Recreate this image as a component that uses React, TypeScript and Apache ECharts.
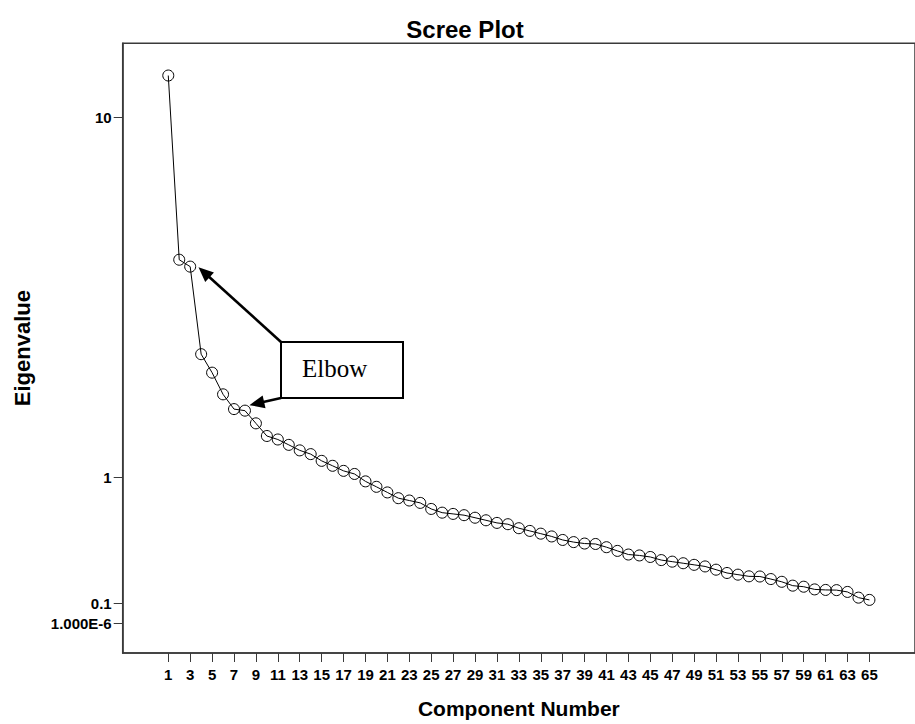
import React, { useEffect, useRef } from "react";
import * as echarts from "echarts";

const components = [
  1, 2, 3, 4, 5, 6, 7, 8, 9, 10, 11, 12, 13, 14, 15, 16, 17, 18, 19, 20, 21, 22,
  23, 24, 25, 26, 27, 28, 29, 30, 31, 32, 33, 34, 35, 36, 37, 38, 39, 40, 41,
  42, 43, 44, 45, 46, 47, 48, 49, 50, 51, 52, 53, 54, 55, 56, 57, 58, 59, 60,
  61, 62, 63, 64, 65,
];

const eigenvalues = [
  12.4, 4.6, 4.42, 2.58, 2.28, 1.96, 1.76, 1.74, 1.58, 1.43, 1.39, 1.33, 1.27,
  1.23, 1.16, 1.11, 1.06, 1.03, 0.96, 0.91, 0.86, 0.81, 0.79, 0.77, 0.72, 0.69,
  0.68, 0.67, 0.65, 0.63, 0.61, 0.6, 0.57, 0.55, 0.53, 0.51, 0.485, 0.47, 0.46,
  0.457, 0.435, 0.41, 0.386, 0.38, 0.37, 0.35, 0.34, 0.33, 0.32, 0.31, 0.29,
  0.27, 0.26, 0.25, 0.249, 0.234, 0.218, 0.196, 0.19, 0.175, 0.172, 0.171,
  0.161, 0.13, 0.118,
];

const xTickValues = [
  1, 3, 5, 7, 9, 11, 13, 15, 17, 19, 21, 23, 25, 27, 29, 31, 33, 35, 37, 39, 41,
  43, 45, 47, 49, 51, 53, 55, 57, 59, 61, 63, 65,
];

const yTickValues = [10, 1, 0.1, 0.000001];
const yTickLabels = ["10", "1", "0.1", "1.000E-6"];

const titleText = "Scree Plot";
const xAxisTitle = "Component Number";
const yAxisTitle = "Eigenvalue";
const annotationText = "Elbow";
const elbowComponents = [3, 8];

// scale used by the original: log10(1 + value)
const tf = (v: number) => Math.log10(1 + v);

const SANS = 'Arial, "Liberation Sans", Helvetica, sans-serif';
const SERIF = '"Times New Roman", "Liberation Serif", serif';
const AXIS = "#3a3a3a";

function arrow(from: number[], tip: number[], headLen: number, headHalf: number) {
  const dx = tip[0] - from[0];
  const dy = tip[1] - from[1];
  const len = Math.sqrt(dx * dx + dy * dy);
  const ux = dx / len;
  const uy = dy / len;
  const bx = tip[0] - ux * headLen;
  const by = tip[1] - uy * headLen;
  const px = -uy;
  const py = ux;
  return [
    {
      type: "line",
      shape: { x1: from[0], y1: from[1], x2: bx + ux * 2, y2: by + uy * 2 },
      style: { stroke: "#000", lineWidth: 2.6 },
      z: 10,
    },
    {
      type: "polygon",
      shape: {
        points: [
          [tip[0], tip[1]],
          [bx + px * headHalf, by + py * headHalf],
          [bx - px * headHalf, by - py * headHalf],
        ],
      },
      style: { fill: "#000" },
      z: 10,
    },
  ];
}

export default function App() {
  const ref = useRef<HTMLDivElement>(null);

  useEffect(() => {
    if (!ref.current) return;
    const chart = echarts.init(ref.current, null, {
      renderer: "svg",
      width: 915,
      height: 724,
    });

    const data = components.map((c, i) => [c, tf(eigenvalues[i])]);
    const yTickPos = yTickValues.map(tf);

    chart.setOption({
      animation: false,
      backgroundColor: "#fff",
      title: {
        text: titleText,
        left: 460,
        textAlign: "center",
        top: 12,
        textStyle: {
          fontFamily: SANS,
          fontWeight: "bold",
          fontSize: 24,
          color: "#000",
        },
      },
      grid: {
        left: 122.7,
        top: 43.3,
        width: 799.6,
        height: 613.7,
        show: true,
        borderColor: AXIS,
        borderWidth: 1.5,
        backgroundColor: "transparent",
      },
      xAxis: {
        type: "value",
        min: -3.16,
        max: 69.16,
        name: xAxisTitle,
        nameLocation: "middle",
        nameGap: 45,
        nameTextStyle: {
          fontFamily: SANS,
          fontWeight: "bold",
          fontSize: 21,
          color: "#000",
        },
        axisLine: { show: true, onZero: false, lineStyle: { color: AXIS, width: 1.5 } },
        axisTick: {
          show: true,
          length: 9,
          customValues: xTickValues,
          lineStyle: { color: AXIS, width: 1 },
        },
        axisLabel: {
          customValues: xTickValues,
          margin: 14,
          fontFamily: SANS,
          fontWeight: "bold",
          fontSize: 15,
          color: "#000",
        },
        splitLine: { show: false },
      },
      yAxis: {
        type: "value",
        min: -0.0608,
        max: 1.1934,
        name: yAxisTitle,
        nameLocation: "middle",
        nameGap: 89,
        nameTextStyle: {
          fontFamily: SANS,
          fontWeight: "bold",
          fontSize: 22,
          color: "#000",
        },
        axisLine: { show: true, onZero: false, lineStyle: { color: AXIS, width: 1.5 } },
        axisTick: {
          show: true,
          length: 9,
          customValues: yTickPos,
          lineStyle: { color: AXIS, width: 1 },
        },
        axisLabel: {
          customValues: yTickPos,
          margin: 11,
          fontFamily: SANS,
          fontWeight: "bold",
          fontSize: 15,
          color: "#000",
          formatter: (val: number) => {
            let best = 0;
            for (let i = 1; i < yTickPos.length; i++) {
              if (Math.abs(yTickPos[i] - val) < Math.abs(yTickPos[best] - val)) best = i;
            }
            return yTickLabels[best];
          },
        },
        splitLine: { show: false },
      },
      series: [
        {
          type: "line",
          data,
          symbol: "circle",
          symbolSize: 11,
          lineStyle: { color: "#000", width: 1 },
          itemStyle: {
            color: "rgba(255,255,255,0)",
            borderColor: "#000",
            borderWidth: 1,
          },
          emphasis: { disabled: true },
        },
      ],
    });

    const i1 = elbowComponents[0] - 1;
    const i2 = elbowComponents[1] - 1;
    const p1 = chart.convertToPixel({ gridIndex: 0 }, [components[i1], tf(eigenvalues[i1])]) as number[];
    const p2 = chart.convertToPixel({ gridIndex: 0 }, [components[i2], tf(eigenvalues[i2])]) as number[];

    const box = { x: 281, y: 342, w: 122, h: 56 };
    const tip1 = [p1[0] + 8.3, p1[1] + 0.6];
    const tip2 = [p2[0] + 4.5, p2[1] - 5.5];

    chart.setOption({
      graphic: [
        {
          type: "rect",
          shape: { x: box.x, y: box.y, width: box.w, height: box.h },
          style: { fill: "#fff", stroke: "#000", lineWidth: 2 },
          z: 9,
        },
        {
          type: "text",
          x: box.x + 21,
          y: box.y + 26,
          style: {
            text: annotationText,
            font: `25px ${SERIF}`,
            fill: "#000",
            textAlign: "left",
            textVerticalAlign: "middle",
          },
          z: 11,
        },
        ...arrow([box.x, box.y], tip1, 15, 6.5),
        ...arrow([box.x, box.y + box.h], tip2, 15, 6.5),
      ],
    });

    return () => chart.dispose();
  }, []);

  return (
    <div
      ref={ref}
      style={{ position: "absolute", left: 0, top: 0, width: 915, height: 724 }}
    />
  );
}
